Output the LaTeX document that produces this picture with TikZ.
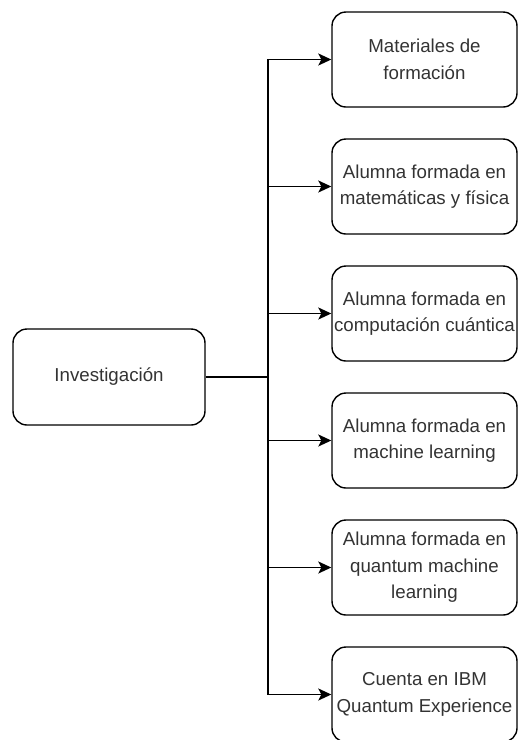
\documentclass[tikz,border=0pt]{standalone}
\usepackage{fontspec}
\setmainfont{Liberation Sans}
\usetikzlibrary{arrows.meta}
\begin{document}
\begin{tikzpicture}[x=1pt,y=-1pt,
  box/.style={draw=black, line width=1.4pt, rounded corners=14pt, fill=white,
    minimum width=185pt, minimum height=95pt, align=center, inner sep=0pt,
    text=black!80, font=\fontsize{18.7}{26.5}\selectfont},
  conn/.style={line width=1.4pt, draw=black},
  arr/.style={conn, -{Stealth[length=13pt,width=12pt,inset=3pt]}}]
\useasboundingbox (0,0) rectangle (518,740);
\node[box, minimum width=192pt, minimum height=96pt] (inv) at (109,377) {Investigación};
\node[box] (b1) at (424.5,59.5) {Materiales de\\formación};
\node[box] (b2) at (424.5,186.5) {Alumna formada en\\matemáticas y física};
\node[box] (b3) at (424.5,313.5) {Alumna formada en\\computación cuántica};
\node[box] (b4) at (424.5,440.5) {Alumna formada en\\machine learning};
\node[box] (b5) at (424.5,567.5) {Alumna formada en\\quantum machine\\learning};
\node[box] (b6) at (424.5,694.5) {Cuenta en IBM\\Quantum Experience};
\coordinate (j) at (268,377);
\draw[conn] (inv.east) -- (j);
\foreach \b in {b1,b2,b3,b4,b5,b6} {
  \draw[arr] (j) |- (\b.west);
}
\end{tikzpicture}
\end{document}
